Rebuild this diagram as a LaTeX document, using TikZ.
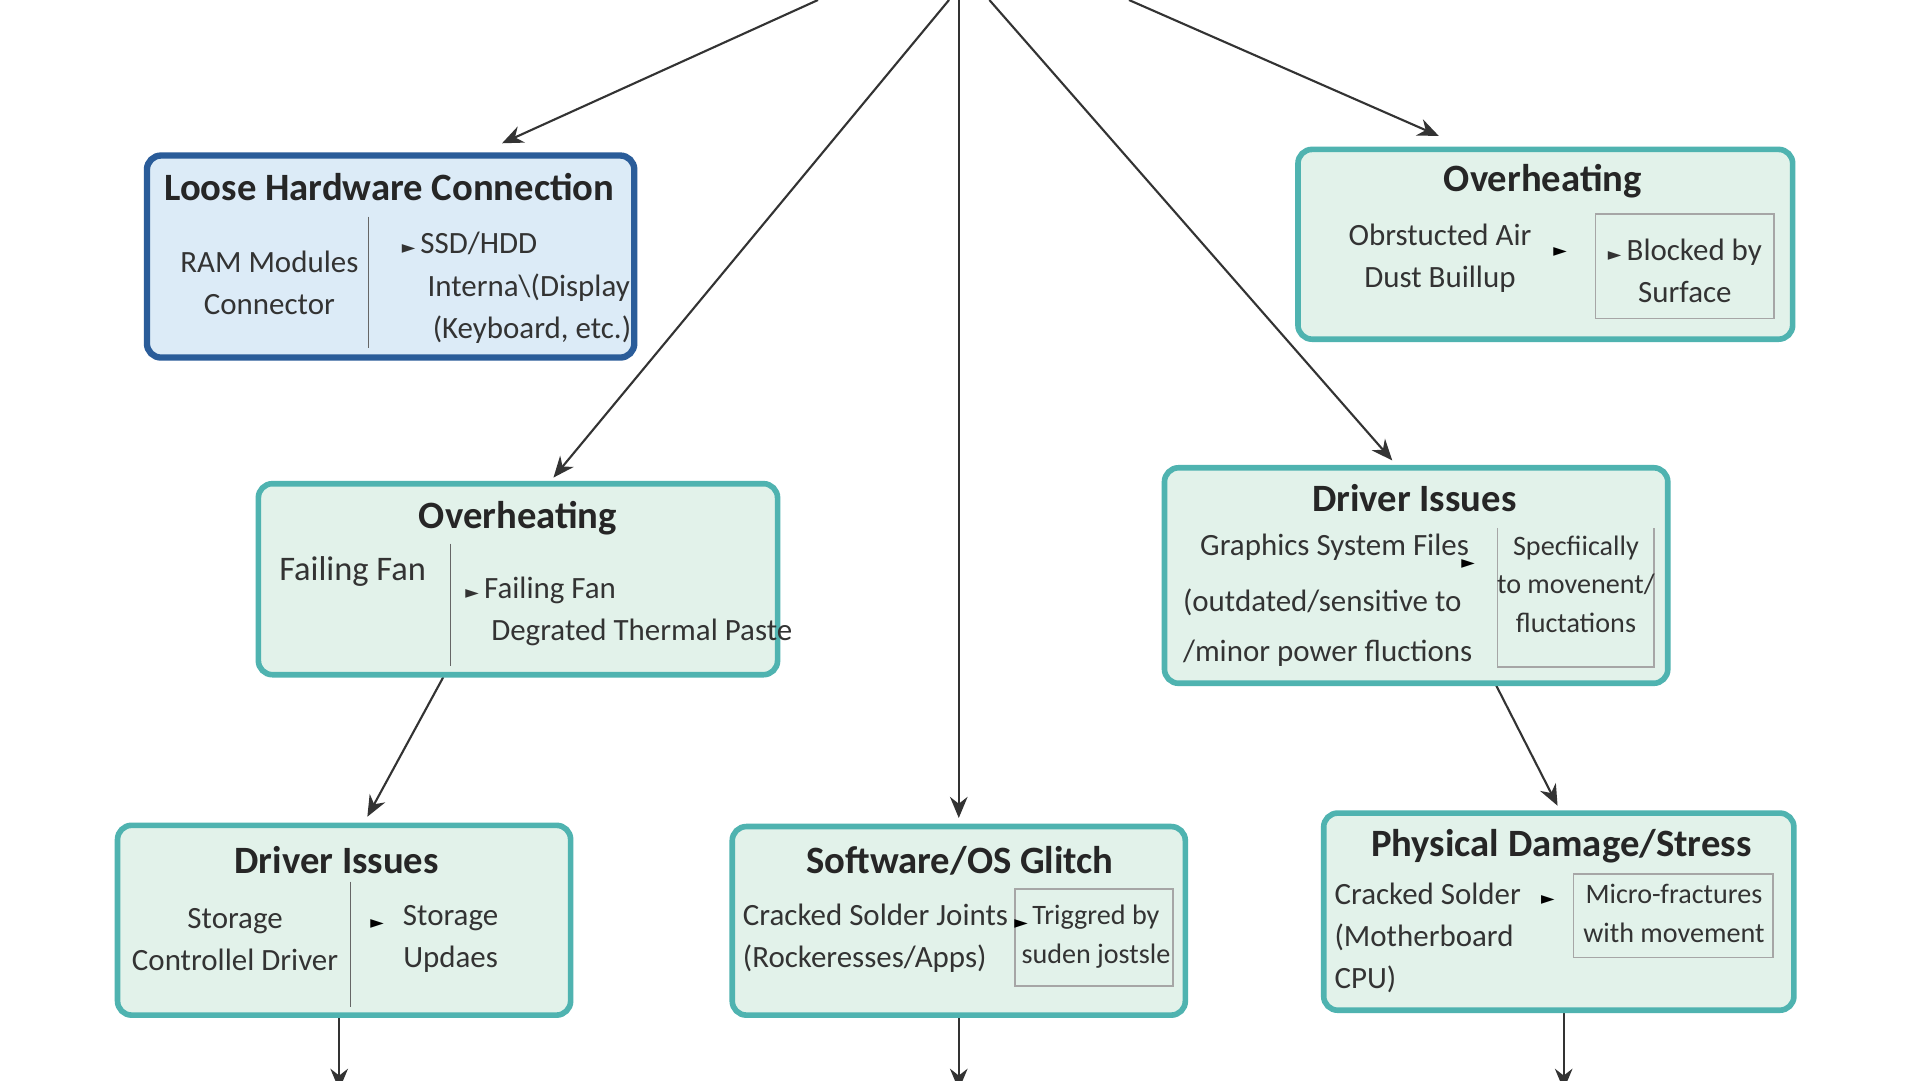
\documentclass[tikz,border=0pt]{standalone}
\usepackage{fontspec}
\setmainfont{Carlito}
\newfontfamily\symfont{DejaVu Sans}
\usetikzlibrary{arrows.meta}
\definecolor{tealline}{HTML}{4FB3B0}
\definecolor{mintfill}{HTML}{E2F2EA}
\definecolor{blueline}{HTML}{2A5C99}
\definecolor{bluefill}{HTML}{DCEBF7}
\newcommand{\tri}{{\symfont\tiny ►}}
\tikzset{
  greenbox/.style={draw=tealline, line width=1.6pt, fill=mintfill, rounded corners=4pt},
  bluebox/.style={draw=blueline, line width=1.8pt, fill=bluefill, rounded corners=4pt},
  title/.style={font=\fontsize{11}{13}\selectfont\bfseries, text=black!85},
  body/.style={font=\fontsize{8.8}{12}\selectfont, text=black!80, align=center},
  sub/.style={draw=gray!70, line width=0.5pt},
  link/.style={draw=black!80, line width=0.6pt, -{Stealth[length=6pt,width=5pt]}},
}
\begin{document}
\begin{tikzpicture}[x=0.012245cm, y=-0.012245cm]
  \useasboundingbox (0,0) rectangle (1568,882);
  \fill[white] (0,0) rectangle (1568,882);
  % connectors
  \coordinate (t1) at (668,0); \coordinate (h1) at (410,117);
  \coordinate (t2) at (775,0); \coordinate (h2) at (452,390);
  \coordinate (t3) at (783,0); \coordinate (h3) at (783,668);
  \coordinate (t4) at (808,0); \coordinate (h4) at (1137,376);
  \coordinate (t5) at (922,0); \coordinate (h5) at (1175,111);
  \draw[link] (t1) -- (h1);
  \draw[link] (t2) -- (h2);
  \draw[link] (t3) -- (h3);
  \draw[link] (t4) -- (h4);
  \draw[link] (t5) -- (h5);
  \coordinate (m1) at (362,553); \coordinate (m2) at (300,667);
  \coordinate (m3) at (1222,560); \coordinate (m4) at (1272,658);
  \draw[link] (m1) -- (m2);
  \draw[link] (m3) -- (m4);
  \foreach \x/\y in {277/829, 783/829, 1277/825}
    \draw[link] (\x,\y) -- (\x,890);
  % boxes
  \draw[bluebox] (120,127) rectangle (518,292);
  \draw[greenbox] (1060,122) rectangle (1464,277);
  \draw[greenbox] (211,395) rectangle (635,551);
  \draw[greenbox] (951,382) rectangle (1362,558);
  \draw[greenbox] (96,674) rectangle (466,829);
  \draw[greenbox] (598,675) rectangle (968,829);
  \draw[greenbox] (1081,664) rectangle (1465,825);
  % loose hardware
  \node[title] (t-loose) at (318,153) {Loose Hardware Connection};
  \draw[black!60] (301,177) -- (301,284);
  \node[body] (a1) at (220,231) {RAM Modules\\Connector};
  \node[body, align=left, anchor=west] (a2) at (318,235) {\tri\,SSD/HDD\\\;\;\;Interna\textbackslash(Display\\\;\;\;\,(Keyboard, etc.)};
  % overheating top
  \node[title] (t-over1) at (1260,148) {Overheating};
  \node[body] (b1) at (1176,211) {Obrstucted Air\\Dust Buillup};
  \node (b2) at (1274,206) {\tri};
  \draw[sub] (1303,175) rectangle (1449,260);
  \node[body] (b3) at (1376,221) {\tri\,Blocked by\\Surface};
  % overheating mid
  \node[title] (t-over2) at (423,423) {Overheating};
  \draw[black!60] (368,444) -- (368,544);
  \node[body, font=\fontsize{9.8}{12}\selectfont] (c1) at (288,467) {Failing Fan};
  \node[body, align=left, anchor=west] (c2) at (370,499) {\tri\,Failing Fan\\\;\;\;Degrated Thermal Paste};
  % driver issues right
  \node[title] (t-drv1) at (1155,407) {Driver Issues};
  \node[body, align=left, anchor=west] (d1) at (956,490) {\;\;Graphics System Files\\[4pt](outdated/sensitive to\\[2pt]/minor power fluctions};
  \node (d2) at (1199,461) {\tri};
  \draw[sub] (1223,431) -- (1223,545) -- (1351,545) -- (1351,431);
  \node[body, font=\fontsize{8}{11}\selectfont] (d3) at (1287,477) {Specfiically\\to movenent/\\fluctations};
  % driver issues bottom
  \node[title] (t-drv2) at (275,702) {Driver Issues};
  \draw[black!60] (286,720) -- (286,822);
  \node[body] (e1) at (192,767) {Storage\\Controllel Driver};
  \node (e2) at (308,755) {\tri};
  \node[body] (e3) at (368,767) {Storage\\Updaes};
  % software
  \node[title] (t-soft) at (784,703) {Software/OS Glitch};
  \node[body, align=left] (f1) at (715,766) {Cracked Solder Joints\\(Rockeresses/Apps)};
  \draw[sub] (829,726) rectangle (958,805);
  \node[body, font=\fontsize{8}{11}\selectfont] (f2) at (895,765) {Triggred by\\suden jostsle};
  \node (f3) at (834,755) {\tri};
  % physical
  \node[title] (t-phys) at (1275,691) {Physical Damage/Stress};
  \node[body, align=left] (g1) at (1166,766) {Cracked Solder\\(Motherboard\\CPU)};
  \node (g2) at (1264,735) {\tri};
  \draw[sub] (1285,714) rectangle (1448,782);
  \node[body, font=\fontsize{8}{11}\selectfont] (g3) at (1367,746) {Micro-fractures\\with movement};
\end{tikzpicture}
\end{document}
